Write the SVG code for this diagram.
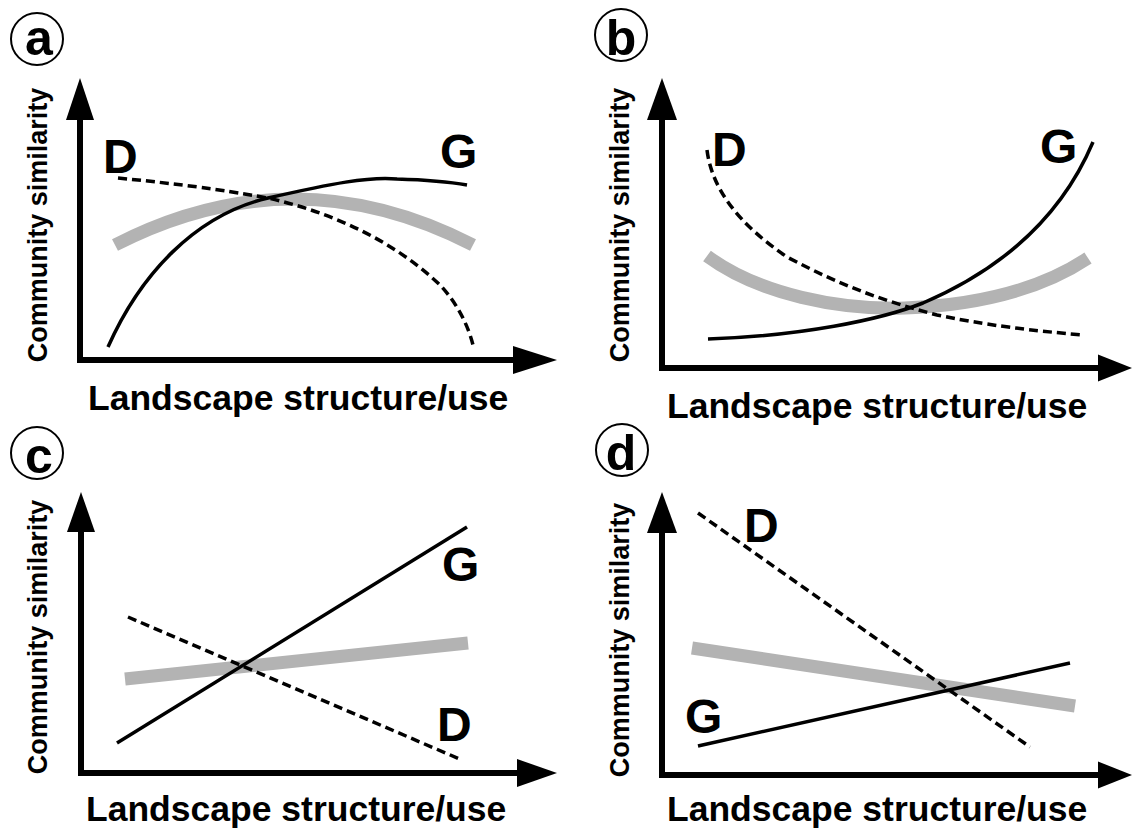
<svg xmlns="http://www.w3.org/2000/svg" width="1133" height="830" viewBox="0 0 1133 830">
<style>
.t{font-family:"Liberation Sans",Arial,sans-serif;font-weight:bold;fill:#000}
.xl{font-size:35.5px}
.yl{font-size:27px;text-anchor:middle}
.lab{font-size:48px}
.pl{font-size:50px;text-anchor:middle}
.ax{stroke:#000;stroke-width:6;fill:none}
.ah{fill:#000}
.g{stroke:#000;stroke-width:3.5;fill:none}
.d{stroke:#000;stroke-width:3.5;fill:none;stroke-dasharray:9 5}
.m{stroke:#b3b3b3;stroke-width:13;fill:none}
.c{stroke:#000;stroke-width:2;fill:none}
</style>
<rect width="1133" height="830" fill="#fff"/>
<g id="panel-a">
  <circle class="c" cx="37" cy="39" r="26"/>
  <text class="t pl" x="39" y="55">a</text>
  <text class="t yl" transform="translate(47,225) rotate(-90)">Community similarity</text>
  <text class="t xl" x="88" y="410">Landscape structure/use</text>
  <path class="ax" d="M80,118 V363 M77,360 H516"/>
  <polygon class="ah" points="80,78 66,120 94,120"/>
  <polygon class="ah" points="557,360 513,346 513,374"/>
  <path class="m" d="M115,245 Q294,153 473,245"/>
  <path class="g" d="M108,347 C140,275 195,215 268,198 C330,184 370,176 397,179 C430,180 450,182 467,185"/>
  <path class="d" d="M118,178 C200,186 240,193 268,198 C330,212 393,240 440,285 C457,303 468,325 473,345"/>
  <text class="t lab" x="103" y="173">D</text>
  <text class="t lab" x="440" y="168">G</text>
</g>
<g id="panel-b">
  <circle class="c" cx="621" cy="35" r="26"/>
  <text class="t pl" x="621" y="55">b</text>
  <text class="t yl" transform="translate(629,225) rotate(-90)">Community similarity</text>
  <text class="t xl" x="667" y="418">Landscape structure/use</text>
  <path class="ax" d="M662,118 V371 M659,368 H1100"/>
  <polygon class="ah" points="662,78 647,120 677,120"/>
  <polygon class="ah" points="1132,368 1098,354.5 1098,381.5"/>
  <path class="m" d="M707,256 C760,295 840,310 905,308 C980,305 1040,290 1088,258"/>
  <path class="g" d="M708,339 C800,336 880,320 923,303 C1000,270 1060,220 1093,142"/>
  <path class="d" d="M707,150 C712,190 740,225 787,257 C840,285 880,300 937,315 C1000,328 1050,332 1083,335"/>
  <text class="t lab" x="712" y="166">D</text>
  <text class="t lab" x="1040" y="163">G</text>
</g>
<g id="panel-c">
  <circle class="c" cx="37" cy="453" r="26"/>
  <text class="t pl" x="39" y="473">c</text>
  <text class="t yl" transform="translate(47,637) rotate(-90)">Community similarity</text>
  <text class="t xl" x="86" y="821">Landscape structure/use</text>
  <path class="ax" d="M81,530 V776 M78,773 H519"/>
  <polygon class="ah" points="81,492 67,532 95,532"/>
  <polygon class="ah" points="557,773 517,759 517,787"/>
  <path class="m" d="M125,679 L468,643"/>
  <path class="g" d="M117,743 L467,527"/>
  <path class="d" d="M128,617 L462,760"/>
  <text class="t lab" x="442" y="581">G</text>
  <text class="t lab" x="437" y="741">D</text>
</g>
<g id="panel-d">
  <circle class="c" cx="622" cy="450" r="26"/>
  <text class="t pl" x="621" y="470">d</text>
  <text class="t yl" transform="translate(629,640) rotate(-90)">Community similarity</text>
  <text class="t xl" x="667" y="821">Landscape structure/use</text>
  <path class="ax" d="M662,530 V778 M659,775 H1100"/>
  <polygon class="ah" points="662,492 647,533 677,533"/>
  <polygon class="ah" points="1132,775 1098,761.5 1098,788.5"/>
  <path class="m" d="M692,648 L1075,706"/>
  <path class="g" d="M698,746 L1070,663"/>
  <path class="d" d="M698,513 L1030,747"/>
  <text class="t lab" x="744" y="542">D</text>
  <text class="t lab" x="685" y="733">G</text>
</g>
</svg>
